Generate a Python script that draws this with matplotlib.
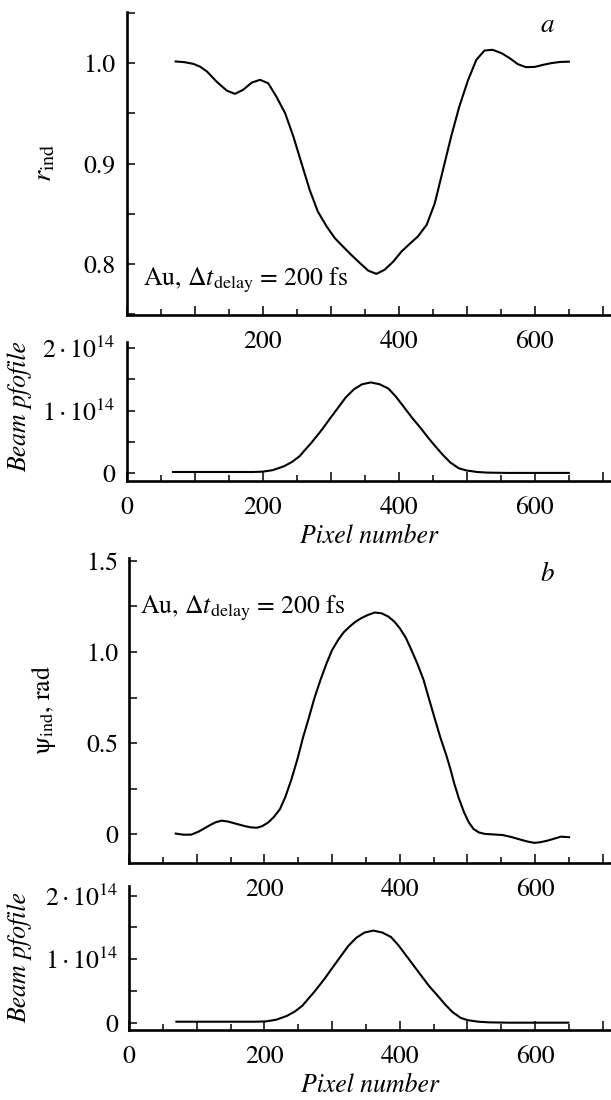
import numpy as np
import matplotlib
matplotlib.use("Agg")
import matplotlib.pyplot as plt
from matplotlib.ticker import MultipleLocator, FuncFormatter

# ---------------- data ----------------
ra_x = [72, 85, 98, 108, 118, 132, 147, 159, 171, 184, 196, 208, 220, 233, 245,
        257, 269, 281, 294, 306, 318, 330, 343, 355, 367, 379, 392, 404, 416, 428,
        441, 453, 465, 477, 489, 502, 514, 526, 538, 551, 563, 575, 587, 600, 612,
        624, 637, 650]
ra_y = [1.0017, 1.0010, 0.9993, 0.9965, 0.9917, 0.9817, 0.9727, 0.9694, 0.9734,
        0.9807, 0.9834, 0.9800, 0.9667, 0.9500, 0.9269, 0.9003, 0.8737, 0.8521,
        0.8372, 0.8256, 0.8172, 0.8090, 0.8007, 0.7933, 0.7900, 0.7940, 0.8023,
        0.8123, 0.8199, 0.8272, 0.8389, 0.8605, 0.8937, 0.9269, 0.9568, 0.9834,
        1.0033, 1.0126, 1.0133, 1.0100, 1.0050, 0.9990, 0.9960, 0.9963, 0.9983,
        1.0000, 1.0012, 1.0015]

beam_a_x = [68, 100, 150, 185, 200, 215, 231, 243, 254, 262, 271, 280, 288, 298,
            311, 322, 334, 346, 359, 372, 385, 396, 408, 420, 433, 443, 453, 465,
            476, 488, 499, 515, 530, 560, 600, 650]
beam_a_y = [0.02e14, 0.02e14, 0.02e14, 0.02e14, 0.025e14, 0.05e14, 0.11e14, 0.18e14,
            0.27e14, 0.37e14, 0.48e14, 0.60e14, 0.71e14, 0.86e14, 1.05e14, 1.21e14,
            1.34e14, 1.42e14, 1.45e14, 1.42e14, 1.35e14, 1.22e14, 1.05e14, 0.88e14,
            0.71e14, 0.57e14, 0.44e14, 0.29e14, 0.17e14, 0.08e14, 0.045e14, 0.02e14,
            0.01e14, 0.005e14, 0.005e14, 0.005e14]

psi_x = [69, 80, 92, 103, 112, 120, 128, 137, 146, 154, 163, 172, 180, 189, 197,
         206, 214, 223, 231, 240, 249, 257, 266, 274, 283, 292, 300, 309, 317, 326,
         334, 343, 353, 363, 373, 383, 392, 400, 409, 417, 426, 435, 443, 452, 460,
         469, 475, 480, 487, 495, 502, 509, 517, 526, 539, 552, 565, 578, 589, 599,
         608, 618, 628, 638, 650]
psi_y = [0.004, -0.002, -0.002, 0.015, 0.034, 0.051, 0.066, 0.075, 0.070, 0.062,
         0.053, 0.044, 0.038, 0.036, 0.045, 0.066, 0.095, 0.138, 0.205, 0.302,
         0.415, 0.530, 0.643, 0.748, 0.848, 0.939, 1.010, 1.066, 1.107, 1.139,
         1.164, 1.185, 1.203, 1.216, 1.212, 1.194, 1.166, 1.130, 1.077, 1.012,
         0.935, 0.848, 0.745, 0.630, 0.530, 0.430, 0.355, 0.284, 0.200, 0.120,
         0.065, 0.029, 0.010, 0.002, -0.001, -0.004, -0.015, -0.029, -0.040, -0.047,
         -0.043, -0.035, -0.024, -0.013, -0.016]

beam_b_x = [70, 100, 150, 187, 202, 217, 233, 245, 256, 264, 273, 282, 290, 300,
            313, 324, 336, 348, 361, 374, 387, 398, 410, 422, 434, 444, 455, 467,
            478, 490, 500, 516, 532, 560, 600, 649]
beam_b_y = [0.02e14, 0.02e14, 0.02e14, 0.02e14, 0.025e14, 0.05e14, 0.11e14, 0.18e14,
            0.27e14, 0.37e14, 0.48e14, 0.60e14, 0.71e14, 0.86e14, 1.05e14, 1.21e14,
            1.34e14, 1.42e14, 1.45e14, 1.42e14, 1.35e14, 1.22e14, 1.05e14, 0.88e14,
            0.71e14, 0.57e14, 0.44e14, 0.29e14, 0.17e14, 0.08e14, 0.045e14, 0.02e14,
            0.01e14, 0.005e14, 0.005e14, 0.005e14]

xticks_top = [200, 400, 600]
xticks_bottom = [0, 200, 400, 600]
ylabels_a = {0.8: "0.8", 0.9: "0.9", 1.0: "1.0"}
ylabels_b = {0.0: "0", 0.5: "0.5", 1.0: "1.0", 1.5: "1.5"}
ylabels_beam = {0.0: "0", 1e14: r"$1\cdot10^{14}$", 2e14: r"$2\cdot10^{14}$"}

# ---------------- style ----------------
plt.rcParams['font.family'] = ['STIXGeneral', 'DejaVu Serif']
plt.rcParams['mathtext.fontset'] = 'stix'
FS = 18.5

W, H = 611, 1100
fig = plt.figure(figsize=(W / 100, H / 100), dpi=100)


def fx(px):
    return px / W


def fy(py):
    return 1 - py / H


def make_ax(left, top, bottom):
    ax = fig.add_axes([fx(left), fy(bottom), 1 - fx(left), (bottom - top) / H])
    ax.patch.set_visible(False)
    for s in ('top', 'right'):
        ax.spines[s].set_visible(False)
    for s in ('left', 'bottom'):
        ax.spines[s].set_linewidth(1.9)
    ax.set_xlim(0, 712)
    ax.xaxis.set_major_locator(MultipleLocator(100))
    ax.xaxis.set_minor_locator(MultipleLocator(50))
    ax.tick_params(axis='x', which='major', direction='in', length=6.5, width=1.1,
                   labelsize=FS, pad=10.5)
    ax.tick_params(axis='x', which='minor', direction='in', length=4, width=1.1)
    ax.tick_params(axis='y', which='both', direction='in', length=5.5, width=1.1,
                   labelsize=FS, pad=8)
    return ax


def xfmt(labels):
    return FuncFormatter(lambda v, p: f"{int(round(v))}" if int(round(v)) in labels else "")


def yfmt(mapping):
    def f(v, p):
        for k, s in mapping.items():
            if abs(v - k) < 1e-6 * max(1.0, abs(k)):
                return s
        return ""
    return FuncFormatter(f)


# Panel a
ax1 = make_ax(126.7, 12, 315)
ax1.plot(ra_x, ra_y, color='black', lw=1.5)
ax1.set_ylim(0.749, 1.051)
ax1.yaxis.set_major_locator(MultipleLocator(0.1))
ax1.yaxis.set_minor_locator(MultipleLocator(0.05))
ax1.yaxis.set_major_formatter(yfmt(ylabels_a))
ax1.xaxis.set_major_formatter(xfmt(xticks_top))

# Beam a
ax2 = make_ax(126.7, 341.7, 481)
ax2.plot(beam_a_x, beam_a_y, color='black', lw=1.5)
ax2.set_ylim(-0.124e14, 2.1e14)
ax2.yaxis.set_major_locator(MultipleLocator(1e14))
ax2.yaxis.set_minor_locator(MultipleLocator(0.5e14))
ax2.yaxis.set_major_formatter(yfmt(ylabels_beam))
ax2.xaxis.set_major_formatter(xfmt(xticks_bottom))

# Panel b
ax3 = make_ax(129, 558, 863.3)
ax3.plot(psi_x, psi_y, color='black', lw=1.5)
ax3.set_ylim(-0.159, 1.515)
ax3.yaxis.set_major_locator(MultipleLocator(0.5))
ax3.yaxis.set_minor_locator(MultipleLocator(0.25))
ax3.yaxis.set_major_formatter(yfmt(ylabels_b))
ax3.xaxis.set_major_formatter(xfmt(xticks_top))

# Beam b
ax4 = make_ax(129, 886, 1030)
ax4.plot(beam_b_x, beam_b_y, color='black', lw=1.5)
ax4.set_ylim(-0.11e14, 2.15e14)
ax4.yaxis.set_major_locator(MultipleLocator(1e14))
ax4.yaxis.set_minor_locator(MultipleLocator(0.5e14))
ax4.yaxis.set_major_formatter(yfmt(ylabels_beam))
ax4.xaxis.set_major_formatter(xfmt(xticks_bottom))

# Text
fig.text(fx(547), fy(26), 'a', fontsize=FS + 1, style='italic', ha='center', va='center')
fig.text(fx(547), fy(575), 'b', fontsize=FS + 1, style='italic', ha='center', va='center')
fig.text(fx(143), fy(285), r'Au, $\Delta t_{\mathrm{delay}}$ = 200 fs', fontsize=FS,
         ha='left', va='baseline')
fig.text(fx(140), fy(613), r'Au, $\Delta t_{\mathrm{delay}}$ = 200 fs', fontsize=FS,
         ha='left', va='baseline')

fig.text(fx(45), fy(163), r'$r_{\mathrm{ind}}$', fontsize=FS + 2, rotation=90,
         ha='center', va='center')
fig.text(fx(43), fy(710), r'ψ$_{\mathrm{ind}}$, rad', fontsize=FS, rotation=90,
         ha='center', va='center')
fig.text(fx(20), fy(407), 'Beam pfofile', fontsize=FS, style='italic', rotation=90,
         ha='center', va='center')
fig.text(fx(20), fy(958), 'Beam pfofile', fontsize=FS, style='italic', rotation=90,
         ha='center', va='center')
fig.text(fx(369), fy(537), 'Pixel number', fontsize=FS, style='italic',
         ha='center', va='center')
fig.text(fx(370), fy(1086), 'Pixel number', fontsize=FS, style='italic',
         ha='center', va='center')

fig.savefig('out.png', dpi=100)
